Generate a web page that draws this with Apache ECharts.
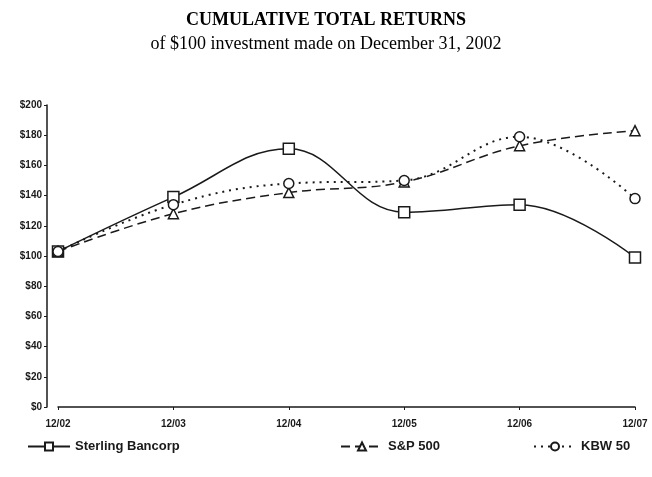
<!DOCTYPE html>
<html>
<head>
<meta charset="utf-8">
<script src="https://cdn.jsdelivr.net/npm/echarts@6/dist/echarts.min.js"></script>
<style>
  html, body { margin: 0; padding: 0; background: #fff; }
  #main { width: 652px; height: 477px; }
</style>
</head>
<body>
<div id="main"></div>
<script>
// data
var years = ['12/02', '12/03', '12/04', '12/05', '12/06', '12/07'];
var sterling = [103, 139, 171, 129, 134, 99];
var sp500 = [103, 128, 142, 149, 173, 183];
var kbw50 = [103, 134, 148, 150, 179, 138];
var yTicks = [0, 20, 40, 60, 80, 100, 120, 140, 160, 180, 200];

var myChart = echarts.init(document.getElementById('main'));

var ink = '#1a1a1a';
var lblFont = { color: ink, fontFamily: 'Liberation Sans', fontWeight: 'bold', fontSize: 10 };

function legendAt(name, left) {
  return {
    data: [name],
    left: left,
    top: 435,
    itemWidth: 42,
    itemHeight: 10,
    itemGap: 4,
    textStyle: { color: ink, fontFamily: 'Liberation Sans', fontWeight: 'bold', fontSize: 13 },
    selectedMode: false
  };
}

var option = {
  backgroundColor: '#fff',
  animation: false,
  title: [{
    text: 'CUMULATIVE TOTAL RETURNS',
    left: 'center',
    top: 6,
    textStyle: { color: '#000', fontFamily: 'Liberation Serif', fontWeight: 'bold', fontSize: 18 }
  }, {
    text: 'of $100 investment made on December 31, 2002',
    left: 'center',
    top: 30,
    textStyle: { color: '#000', fontFamily: 'Liberation Serif', fontWeight: 'normal', fontSize: 18 }
  }],
  legend: [
    legendAt('Sterling Bancorp', 22),
    legendAt('S&P 500', 335),
    legendAt('KBW 50', 528)
  ],
  grid: { left: 58, right: 17, top: 105, bottom: 70 },
  xAxis: {
    type: 'category',
    data: years,
    boundaryGap: false,
    axisLine: { lineStyle: { color: ink, width: 1.5 } },
    axisTick: { show: true, length: 3, alignWithLabel: true, lineStyle: { color: ink } },
    axisLabel: Object.assign({ margin: 12 }, lblFont)
  },
  yAxis: {
    type: 'value',
    min: 0,
    max: 200,
    interval: 20,
    offset: 11,
    axisLine: { show: true, lineStyle: { color: ink, width: 1.5 } },
    axisTick: { show: true, length: 3, lineStyle: { color: ink } },
    splitLine: { show: false },
    axisLabel: Object.assign({
      margin: 5,
      formatter: function (v) { return yTicks.indexOf(v) >= 0 ? '$' + v : ''; }
    }, lblFont)
  },
  series: [{
    name: 'Sterling Bancorp',
    type: 'line',
    smooth: 0.4,
    data: sterling,
    symbol: 'rect',
    symbolSize: 11,
    z: 3,
    itemStyle: { color: '#fff', borderColor: ink, borderWidth: 1.5 },
    lineStyle: { color: ink, width: 1.5, type: 'solid' }
  }, {
    name: 'S&P 500',
    type: 'line',
    smooth: 0.4,
    data: sp500,
    symbol: 'triangle',
    symbolSize: 10,
    itemStyle: { color: '#fff', borderColor: ink, borderWidth: 1.5 },
    lineStyle: { color: ink, width: 1.5, type: [9, 5] }
  }, {
    name: 'KBW 50',
    type: 'line',
    smooth: 0.4,
    data: kbw50,
    symbol: 'circle',
    symbolSize: 10,
    itemStyle: { color: '#fff', borderColor: ink, borderWidth: 1.5 },
    lineStyle: { color: ink, width: 2, type: [2, 5] }
  }]
};

myChart.setOption(option);
</script>
</body>
</html>
